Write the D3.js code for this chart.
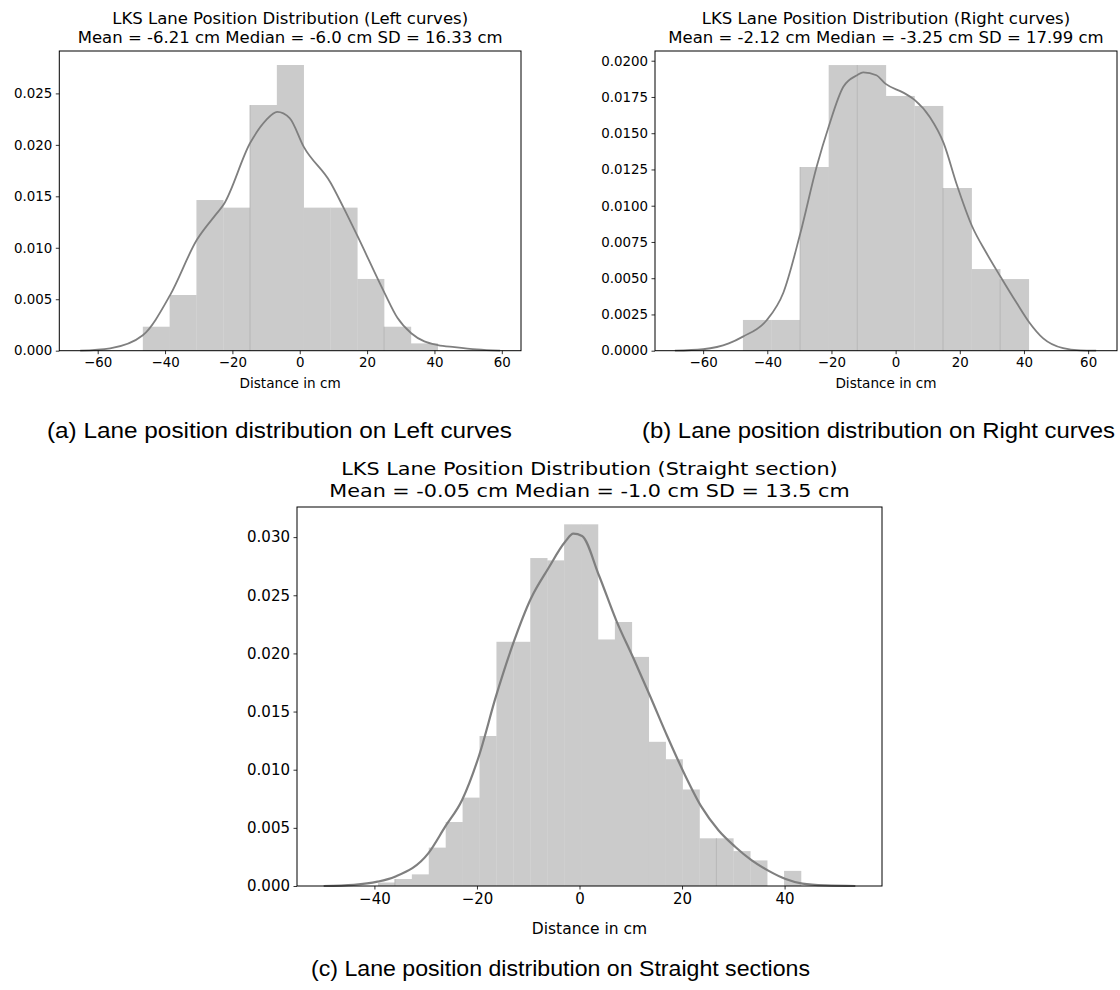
<!DOCTYPE html>
<html>
<head>
<meta charset="utf-8">
<script src="https://cdn.jsdelivr.net/npm/d3@7"></script>
<style>
  body { margin: 0; background: #fff; }
  svg { display: block; }
</style>
</head>
<body>
<svg id="fig" width="1120" height="990"></svg>
<script>
// ---- data ----
// (a) left curves
const leftBinStart = -46.6, leftBinWidth = 7.96
const leftHeights = [0.00233, 0.00541, 0.01464, 0.0139, 0.02387, 0.02776, 0.0139, 0.0139, 0.00697, 0.00233, 0.00071]
const leftSeams = [4, 9]
const leftKdeX = [-65.2, -56.3, -46.6, -38.5, -30.5, -25, -22.6, -14.7, -10, -6.7, -3, 1.2, 9.2, 13, 17.2, 25.2, 29, 33.1, 37, 41.0, 46, 52.6, 59.5]
const leftKdeY = [0, 0.00023, 0.0015, 0.0054, 0.0108, 0.0132, 0.0142, 0.0202, 0.0224, 0.0232, 0.0226, 0.0198, 0.0163, 0.0139, 0.0111, 0.0056, 0.0032, 0.0017, 0.0009, 0.00055, 0.00035, 0.00013, 0]
const leftTicksY = [0, 0.005, 0.01, 0.015, 0.02, 0.025]

// (b) right curves
const rightBinStart = -47.6, rightBinWidth = 8.91
const rightHeights = [0.00212, 0.00212, 0.01267, 0.0197, 0.0197, 0.01757, 0.01688, 0.01122, 0.00563, 0.00494]
const rightSeams = [2, 4, 7, 9]
const rightKdeX = [-68.8, -60, -52, -47.6, -40.2, -35.0, -29.7, -24.6, -20.8, -16.3, -12.0, -10.1, -6, -3.1, 2.4, 5.9, 10.7, 15.0, 19.0, 23.8, 28.4, 32.7, 37.7, 41.5, 46.0, 52.2, 57.5, 62.5]
const rightKdeY = [0, 0.0001, 0.0005, 0.00097, 0.0021, 0.0040, 0.0081, 0.0127, 0.0155, 0.0182, 0.0190, 0.0192, 0.0190, 0.0184, 0.0178, 0.0173, 0.0161, 0.0143, 0.0115, 0.0086, 0.0067, 0.0051, 0.0033, 0.0020, 0.00085, 0.00017, 0.00002, 0]
const rightTicksY = [0, 0.0025, 0.005, 0.0075, 0.01, 0.0125, 0.015, 0.0175, 0.02]

// (c) straight sections
const straightBinStart = -39.3, straightBinWidth = 3.3
const straightHeights = [0.0003, 0.0006, 0.0010, 0.0033, 0.0055, 0.0076, 0.0129, 0.0210, 0.0210, 0.0282, 0.0280, 0.0311, 0.0311,
  0.0212, 0.0227, 0.0197, 0.0124, 0.0109, 0.0083, 0.0041, 0.0041, 0.0030, 0.0022, 0, 0.0013]
const straightSeams = [1, 20]
const straightKdeX = [-49.9, -44, -39.4, -36.0, -29.5, -26.2, -22.9, -19.6, -16.3, -12.9, -9.5, -6.1, -2.8, -1.2, 0.5, 3.8, 7.2, 10.5, 13.8, 17.1, 20.4, 23.8, 27.1, 30.3, 33.6, 36.9, 40.2, 43.5, 48, 53.8]
const straightKdeY = [0, 0.0001, 0.00037, 0.0008, 0.0028, 0.0051, 0.0074, 0.0112, 0.0163, 0.0209, 0.0247, 0.0273, 0.0296, 0.0303, 0.0301, 0.0267, 0.0228, 0.0196, 0.0163, 0.0129, 0.0097, 0.0068, 0.0048, 0.0034, 0.0022, 0.0013, 0.0006, 0.0002, 0.00005, 0]
const straightTicksY = [0, 0.005, 0.01, 0.015, 0.02, 0.025, 0.03]

const ticksX = [-60, -40, -20, 0, 20, 40, 60]

const svg = d3.select("#fig")

function drawPanel(p) {
  const x = d3.scaleLinear().domain(p.xDomain).range([p.left, p.right])
  const y = d3.scaleLinear().domain(p.yDomain).range([p.bottom, p.top])
  const g = svg.append("g")

  // histogram bars
  const bins = p.heights.map((h, i) => ({ x0: p.binStart + i * p.binWidth, x1: p.binStart + (i + 1) * p.binWidth, h: h }))
  g.selectAll(".bar")
    .data(bins.filter(d => d.h > 0))
    .join("rect")
      .attr("x", d => x(d.x0))
      .attr("width", d => x(d.x1) - x(d.x0) + 0.3)
      .attr("y", d => y(d.h))
      .attr("height", d => y(0) - y(d.h))
      .attr("fill", "#cbcbcb")

  // faint seams where neighbouring bars overlap
  g.selectAll(".seam")
    .data(p.seams.map(i => bins[i]))
    .join("line")
      .attr("x1", d => x(d.x0)).attr("x2", d => x(d.x0))
      .attr("y1", y(0))
      .attr("y2", d => y(d.h))
      .attr("stroke", "#b0b0b0")
      .attr("stroke-width", 0.8)

  // kde
  const line = d3.line()
    .x(d => x(d[0]))
    .y(d => y(d[1]))
    .curve(d3.curveMonotoneX)
  g.append("path")
    .datum(p.kdeX.map((v, i) => [v, p.kdeY[i]]))
    .attr("d", line)
    .attr("fill", "none")
    .attr("stroke", "#7f7f7f")
    .attr("stroke-width", p.lineWidth)

  // axes
  const xAxis = d3.axisBottom(x).tickValues(p.ticksX).tickSize(3.5).tickPadding(3.5).tickFormat(d3.format("d"))
  const yAxis = d3.axisLeft(y).tickValues(p.ticksY).tickSize(3.5).tickPadding(3.5).tickFormat(d3.format(p.yFormat))
  const gx = g.append("g").attr("transform", `translate(0,${p.bottom})`).call(xAxis)
  const gy = g.append("g").attr("transform", `translate(${p.left},0)`).call(yAxis)
  for (const ax of [gx, gy]) {
    ax.select(".domain").remove()
    ax.selectAll("text").style("font-family", "DejaVu Sans").style("font-size", p.tickFont + "px").attr("fill", "#000")
    ax.selectAll("line").attr("stroke", "#000").attr("stroke-width", 0.8)
  }

  // frame
  g.append("rect")
    .attr("x", p.left).attr("y", p.top)
    .attr("width", p.right - p.left).attr("height", p.bottom - p.top)
    .attr("fill", "none").attr("stroke", "#000").attr("stroke-width", 1)

  const cx = (p.left + p.right) / 2
  g.append("text").attr("x", cx).attr("y", p.bottom + p.xlabelGap).text("Distance in cm")
    .attr("text-anchor", "middle").style("font-family", "DejaVu Sans").style("font-size", p.labelFont + "px")
  const t1 = g.append("text").attr("x", cx).attr("y", p.top - p.titleGap - p.titleLine).text(p.title1)
    .attr("text-anchor", "middle").style("font-family", "DejaVu Sans").style("font-size", p.titleFont + "px")
  const t2 = g.append("text").attr("x", cx).attr("y", p.top - p.titleGap).text(p.title2)
    .attr("text-anchor", "middle").style("font-family", "DejaVu Sans").style("font-size", p.titleFont + "px")
  if (p.titleStretch) {
    for (const t of [t1, t2]) {
      const w = t.node().getComputedTextLength()
      t.attr("textLength", w * p.titleStretch).attr("lengthAdjust", "spacingAndGlyphs")
    }
  }
}

drawPanel({
  left: 59.3, right: 521, top: 51, bottom: 350.7,
  xDomain: [-71.4, 65.7], yDomain: [0, 0.02912],
  binStart: leftBinStart, binWidth: leftBinWidth, heights: leftHeights, seams: leftSeams,
  kdeX: leftKdeX, kdeY: leftKdeY, ticksX: ticksX, ticksY: leftTicksY, yFormat: ".3f",
  tickFont: 13.4, labelFont: 13.6, titleFont: 16.5, titleGap: 8.5, titleLine: 19, xlabelGap: 37.5, lineWidth: 1.8,
  title1: "LKS Lane Position Distribution (Left curves)",
  title2: "Mean = -6.21 cm Median = -6.0 cm SD = 16.33 cm"
})

drawPanel({
  left: 655, right: 1117, top: 51, bottom: 350.7,
  xDomain: [-75, 69], yDomain: [0, 0.02067],
  binStart: rightBinStart, binWidth: rightBinWidth, heights: rightHeights, seams: rightSeams,
  kdeX: rightKdeX, kdeY: rightKdeY, ticksX: ticksX, ticksY: rightTicksY, yFormat: ".4f",
  tickFont: 13.4, labelFont: 13.6, titleFont: 16.5, titleGap: 8.5, titleLine: 19, xlabelGap: 37.5, lineWidth: 1.8,
  title1: "LKS Lane Position Distribution (Right curves)",
  title2: "Mean = -2.12 cm Median = -3.25 cm SD = 17.99 cm"
})

drawPanel({
  left: 297, right: 882, top: 507, bottom: 886,
  xDomain: [-55.1, 59.0], yDomain: [0, 0.03259],
  binStart: straightBinStart, binWidth: straightBinWidth, heights: straightHeights, seams: straightSeams,
  kdeX: straightKdeX, kdeY: straightKdeY, ticksX: [-40, -20, 0, 20, 40], ticksY: straightTicksY, yFormat: ".3f",
  tickFont: 15, labelFont: 15.5, titleFont: 18.5, titleStretch: 1.12, titleGap: 10, titleLine: 22, xlabelGap: 48, lineWidth: 2.2,
  title1: "LKS Lane Position Distribution (Straight section)",
  title2: "Mean = -0.05 cm Median = -1.0 cm SD = 13.5 cm"
})

// sub-figure captions
const captions = [
  { text: "(a) Lane position distribution on Left curves", x: 279.5, y: 438, width: 465 },
  { text: "(b) Lane position distribution on Right curves", x: 878.5, y: 438, width: 473 },
  { text: "(c) Lane position distribution on Straight sections", x: 560.5, y: 976, width: 499 }
]
svg.selectAll(".caption")
  .data(captions)
  .join("text")
    .attr("x", d => d.x).attr("y", d => d.y)
    .attr("text-anchor", "middle")
    .attr("textLength", d => d.width)
    .attr("lengthAdjust", "spacingAndGlyphs")
    .style("font-family", "Liberation Sans, Arial, sans-serif")
    .style("font-size", "22px")
    .text(d => d.text)
</script>
</body>
</html>
